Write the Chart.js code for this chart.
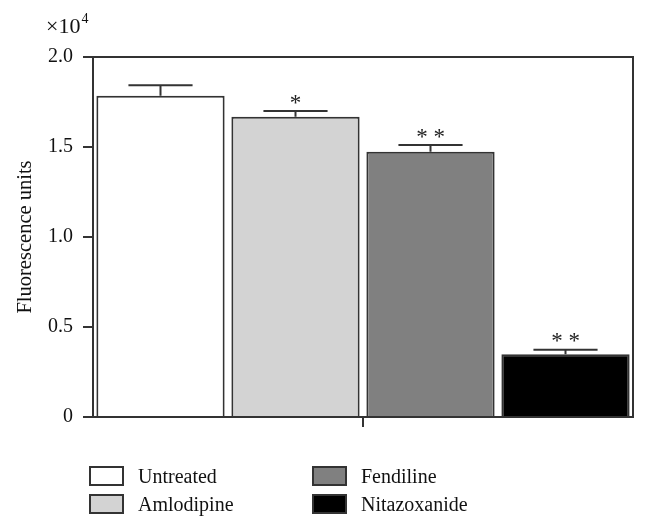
<!DOCTYPE html>
<html>
<head>
<meta charset="utf-8">
<script src="https://cdn.jsdelivr.net/npm/chart.js@4.4.0/dist/chart.umd.min.js"></script>
<style>
  body { margin: 0; background: #fff; }
  #wrap { position: relative; width: 648px; height: 530px; }
  #legend { position: absolute; left: 0; top: 0; width: 648px; height: 530px; pointer-events: none;
            font-family: "Liberation Serif", "DejaVu Serif", serif; font-size: 20px; color: #111; }
  .item { position: absolute; display: flex; align-items: center; height: 20px; }
  .box { width: 31px; height: 16px; border: 2px solid #333; margin-right: 14px; }
</style>
</head>
<body>
<div id="wrap">
  <canvas id="myChart" width="648" height="530"></canvas>
  <div id="legend"></div>
</div>
<script>
// data
const groups = [''];
const treatments = ['Untreated', 'Amlodipine', 'Fendiline', 'Nitazoxanide'];
const meanValues = [17850, 16680, 14740, 3480];
const errorValues = [580, 320, 370, 260];
const significance = ['', '*', '**', '**'];
const barColors = ['#ffffff', '#d3d3d3', '#808080', '#000000'];
const yTickLabels = ['0', '0.5', '1.0', '1.5', '2.0'];

const fontFamily = '"Liberation Serif", "DejaVu Serif", serif';
const axisColor = '#333';

// error bars, asterisks, frame and exponent label
const extrasPlugin = {
    id: 'extras',
    afterDatasetsDraw(chart) {
        const ctx = chart.ctx;
        const yScale = chart.scales.y;
        const area = chart.chartArea;
        ctx.save();
        ctx.strokeStyle = axisColor;
        ctx.lineWidth = 2;

        chart.data.datasets.forEach((ds, i) => {
            const bar = chart.getDatasetMeta(i).data[0];
            const x = bar.x;
            const half = bar.width / 4;
            const yTop = yScale.getPixelForValue(meanValues[i] + errorValues[i]);
            ctx.beginPath();
            ctx.moveTo(x, bar.y);
            ctx.lineTo(x, yTop);
            ctx.moveTo(x - half, yTop);
            ctx.lineTo(x + half, yTop);
            ctx.stroke();

            // significance stars
            const stars = significance[i];
            if (stars) {
                ctx.fillStyle = '#222';
                ctx.font = '23px ' + fontFamily;
                ctx.textAlign = 'center';
                ctx.textBaseline = 'alphabetic';
                const text = stars.split('').join(' ');
                const m = ctx.measureText(text);
                const centerY = yTop - 12;
                const base = centerY + (m.actualBoundingBoxAscent - m.actualBoundingBoxDescent) / 2;
                ctx.fillText(text, x, base);
            }
        });

        // frame top and right
        ctx.beginPath();
        ctx.moveTo(area.left, area.top);
        ctx.lineTo(area.right, area.top);
        ctx.lineTo(area.right, area.bottom);
        ctx.stroke();

        // x10^4
        ctx.fillStyle = '#111';
        ctx.textAlign = 'left';
        ctx.textBaseline = 'alphabetic';
        ctx.font = '22px ' + fontFamily;
        ctx.fillText('\u00d710', 46, 33);
        const w = ctx.measureText('\u00d710').width;
        ctx.font = '14px ' + fontFamily;
        ctx.fillText('4', 46 + w + 1, 23);
        ctx.restore();
    }
};

const ctx = document.getElementById('myChart').getContext('2d');
new Chart(ctx, {
    type: 'bar',
    data: {
        labels: groups,
        datasets: treatments.map((name, i) => ({
            label: name,
            data: [meanValues[i]],
            backgroundColor: barColors[i],
            borderColor: axisColor,
            borderWidth: 2,
            categoryPercentage: 1.0,
            barPercentage: 0.95
        }))
    },
    options: {
        responsive: false,
        animation: false,
        layout: { padding: { left: 0, top: 57, right: 15, bottom: 0 } },
        plugins: {
            legend: { display: false },
            tooltip: { enabled: false }
        },
        scales: {
            x: {
                grid: { display: true, drawOnChartArea: false, offset: false, tickLength: 10, color: axisColor, lineWidth: 2 },
                border: { color: axisColor, width: 2 },
                ticks: { display: false },
                afterFit(scale) { scale.height = 113; }
            },
            y: {
                min: 0,
                max: 20000,
                grid: { drawOnChartArea: false, tickLength: 10, color: axisColor, lineWidth: 2 },
                border: { color: axisColor, width: 2 },
                ticks: {
                    stepSize: 5000,
                    padding: 10,
                    color: '#111',
                    font: { family: fontFamily, size: 20 },
                    callback: (v, idx) => yTickLabels[idx]
                },
                title: {
                    display: true,
                    text: 'Fluorescence units',
                    color: '#111',
                    font: { family: fontFamily, size: 20.5 },
                    padding: { top: 13, bottom: 0 }
                },
                afterFit(scale) { scale.width = 93; }
            }
        }
    },
    plugins: [extrasPlugin]
});

// legend in two columns
const legend = document.getElementById('legend');
const legendSpots = [[89, 466], [89, 494], [312, 466], [312, 494]];
treatments.forEach((name, i) => {
    const item = document.createElement('div');
    item.className = 'item';
    item.style.left = legendSpots[i][0] + 'px';
    item.style.top = legendSpots[i][1] + 'px';
    const box = document.createElement('div');
    box.className = 'box';
    box.style.background = barColors[i];
    const label = document.createElement('span');
    label.textContent = name;
    item.appendChild(box);
    item.appendChild(label);
    legend.appendChild(item);
});
</script>
</body>
</html>
